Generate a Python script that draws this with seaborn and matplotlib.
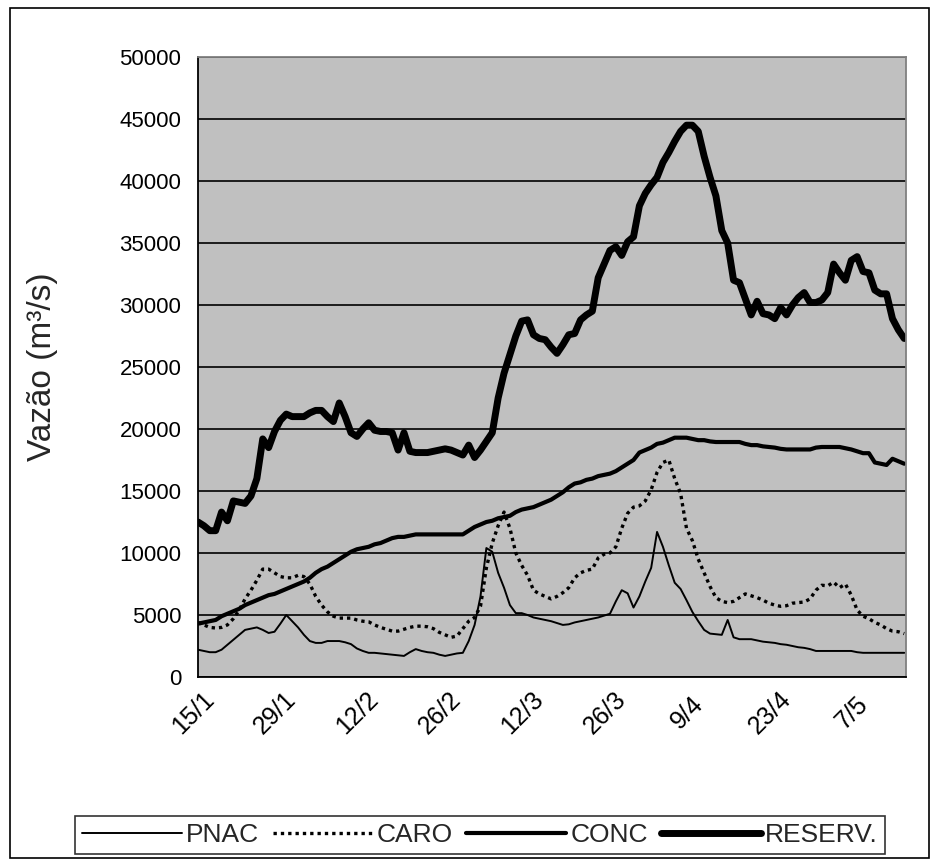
import numpy as np
import pandas as pd
import matplotlib
matplotlib.use("Agg")
import matplotlib.pyplot as plt
import seaborn as sns
from matplotlib.transforms import ScaledTranslation
from matplotlib.patches import Rectangle
from matplotlib.lines import Line2D

# dias desde 15/1 (0..120)
dias = list(range(121))
rotulos_x = ["15/1", "29/1", "12/2", "26/2", "12/3", "26/3", "9/4", "23/4", "7/5"]

pnac = [2200, 2100, 2000, 2000, 2200, 2600, 3000, 3400, 3800, 3900,
        4000, 3800, 3550, 3650, 4300, 5000, 4500, 4000, 3400, 2900,
        2750, 2750, 2900, 2900, 2900, 2800, 2650, 2300, 2100, 1950,
        1950, 1900, 1850, 1800, 1750, 1700, 2000, 2250, 2100, 2000,
        1950, 1800, 1700, 1800, 1900, 1950, 2900, 4200, 6500, 10400,
        10100, 8400, 7200, 5800, 5150, 5150, 5000, 4800, 4700, 4600,
        4500, 4350, 4200, 4250, 4400, 4500, 4600, 4700, 4800, 4950,
        5100, 6100, 7000, 6750, 5600, 6500, 7700, 8800, 11700, 10500,
        9000, 7600, 7100, 6200, 5250, 4500, 3800, 3500, 3450, 3400,
        4600, 3200, 3050, 3050, 3050, 2950, 2850, 2800, 2750, 2650,
        2600, 2500, 2400, 2350, 2250, 2100, 2100, 2100, 2100, 2100,
        2100, 2100, 2000, 1950, 1950, 1950, 1950, 1950, 1950, 1950,
        1950]

caro = [4400, 4200, 4000, 3950, 4000, 4200, 4700, 5400, 6300, 7000,
        7800, 8700, 8700, 8400, 8100, 8000, 8000, 8200, 8100, 7500,
        6500, 5800, 5250, 4900, 4750, 4750, 4750, 4600, 4500, 4450,
        4200, 4000, 3850, 3700, 3700, 3850, 4000, 4100, 4100, 4050,
        3900, 3600, 3400, 3200, 3300, 3900, 4500, 4800, 5700, 8800,
        10800, 12200, 13300, 12000, 10000, 9000, 8200, 7000, 6700, 6500,
        6300, 6500, 6800, 7200, 8000, 8400, 8600, 8700, 9600, 9900,
        10000, 10500, 12000, 13200, 13700, 13800, 14200, 15100, 16500, 17300,
        17500, 16000, 14800, 12000, 11000, 9500, 8400, 7300, 6400, 6100,
        6000, 6100, 6400, 6700, 6550, 6400, 6200, 5950, 5800, 5700,
        5750, 5950, 6000, 6050, 6300, 7000, 7400, 7350, 7650, 7200,
        7500, 6600, 5400, 4900, 4700, 4400, 4200, 3900, 3700, 3650,
        3500]

conc = [4300, 4400, 4500, 4600, 4900, 5100, 5300, 5500, 5800, 6000,
        6200, 6400, 6600, 6700, 6900, 7100, 7300, 7500, 7700, 8000,
        8400, 8700, 8900, 9200, 9500, 9800, 10100, 10300, 10400, 10500,
        10700, 10800, 11000, 11200, 11300, 11300, 11400, 11500, 11500, 11500,
        11500, 11500, 11500, 11500, 11500, 11500, 11800, 12100, 12300, 12500,
        12600, 12800, 12900, 13000, 13300, 13500, 13600, 13700, 13900, 14100,
        14300, 14600, 14900, 15300, 15600, 15700, 15900, 16000, 16200, 16300,
        16400, 16600, 16900, 17200, 17500, 18100, 18300, 18500, 18800, 18900,
        19100, 19300, 19300, 19300, 19200, 19100, 19100, 19000, 18950, 18950,
        18950, 18950, 18950, 18800, 18700, 18700, 18600, 18550, 18500, 18400,
        18350, 18350, 18350, 18350, 18350, 18500, 18550, 18550, 18550, 18550,
        18450, 18350, 18200, 18050, 18050, 17300, 17200, 17100, 17600, 17400,
        17200]

reserv = [12500, 12200, 11800, 11800, 13300, 12600, 14200, 14100, 14000, 14600,
          16000, 19200, 18500, 19800, 20700, 21200, 21000, 21000, 21000, 21300,
          21500, 21500, 21000, 20600, 22100, 21000, 19700, 19400, 20000, 20500,
          19900, 19800, 19800, 19700, 18300, 19700, 18200, 18100, 18100, 18100,
          18200, 18300, 18400, 18300, 18100, 17900, 18700, 17700, 18300, 19000,
          19700, 22500, 24500, 26000, 27500, 28700, 28800, 27600, 27300, 27200,
          26600, 26100, 26800, 27600, 27700, 28800, 29200, 29500, 32200, 33300,
          34400, 34700, 34000, 35100, 35500, 38000, 39000, 39700, 40300, 41500,
          42300, 43200, 44000, 44500, 44500, 44000, 42000, 40300, 38800, 36000,
          35000, 32000, 31800, 30500, 29200, 30300, 29300, 29200, 28900, 29800,
          29200, 30000, 30600, 31000, 30200, 30200, 30400, 31000, 33300, 32600,
          32000, 33600, 33900, 32700, 32600, 31200, 30900, 30900, 28900, 28000,
          27300]

df = pd.DataFrame({"dia": dias, "PNAC": pnac, "CARO": caro,
                   "CONC": conc, "RESERV.": reserv})

sns.set_theme(style="white")
plt.rcParams["font.family"] = ["Liberation Sans", "DejaVu Sans"]

W, H = 939, 861
fig = plt.figure(figsize=(W / 100, H / 100), dpi=100)
ax = fig.add_axes([198 / W, 1 - 677 / H, 708 / W, 620 / H])
ax.set_facecolor("#c0c0c0")

estilos = {
    "PNAC": dict(lw=1.4, ls="-"),
    "CARO": dict(lw=2.4, ls=(0, (1, 1.2))),
    "CONC": dict(lw=3.0, ls="-"),
    "RESERV.": dict(lw=5.0, ls="-"),
}
for nome, st in estilos.items():
    sns.lineplot(data=df, x="dia", y=nome, ax=ax, color="black",
                 linewidth=st["lw"], linestyle=st["ls"], label=nome,
                 legend=False)

ax.set_xlim(0, 120.3)
ax.set_ylim(0, 50000)
ax.set_yticks(range(0, 50001, 5000))
ax.set_xticks(range(0, 113, 14))
ax.set_xticklabels(rotulos_x, rotation=45, ha="center", va="center",
                   rotation_mode="anchor", fontsize=18)
ax.grid(axis="y", color="black", linewidth=1.2)
ax.grid(axis="x", visible=False)
ax.set_axisbelow(True)

for s in ["left", "bottom"]:
    ax.spines[s].set_color("black")
    ax.spines[s].set_linewidth(1.3)
for s in ["top", "right"]:
    ax.spines[s].set_color("#808080")
    ax.spines[s].set_linewidth(1.3)

ax.tick_params(axis="both", direction="out", length=7, width=1.2,
               colors="black")
ax.tick_params(axis="y", pad=5, labelsize=16)
ax.tick_params(axis="x", pad=19)
for lbl in ax.get_xticklabels():
    lbl.set_transform(lbl.get_transform() +
                      ScaledTranslation(-5 / 100, 0, fig.dpi_scale_trans))

ax.set_xlabel("")
ax.set_ylabel("Vazão (m³/s)", fontsize=24, va="center")
ax.yaxis.set_label_coords(-0.219, 0.5)

handles = [Line2D([], [], color="black", lw=st["lw"], ls=st["ls"])
           for st in estilos.values()]
leg = fig.legend(handles, list(estilos.keys()), loc="center",
                 bbox_to_anchor=(480 / W, 1 - 835 / H), ncol=4,
                 fontsize=19, frameon=True, fancybox=False,
                 edgecolor="black", handlelength=3.8, handletextpad=0.15,
                 columnspacing=0.5, borderpad=0.25)
leg.get_frame().set_linewidth(1.2)

fig.patches.append(Rectangle((10 / W, 3 / H), 919 / W, 850 / H,
                             transform=fig.transFigure, fill=False,
                             edgecolor="black", linewidth=1.2))

fig.savefig("out.png", dpi=100)
